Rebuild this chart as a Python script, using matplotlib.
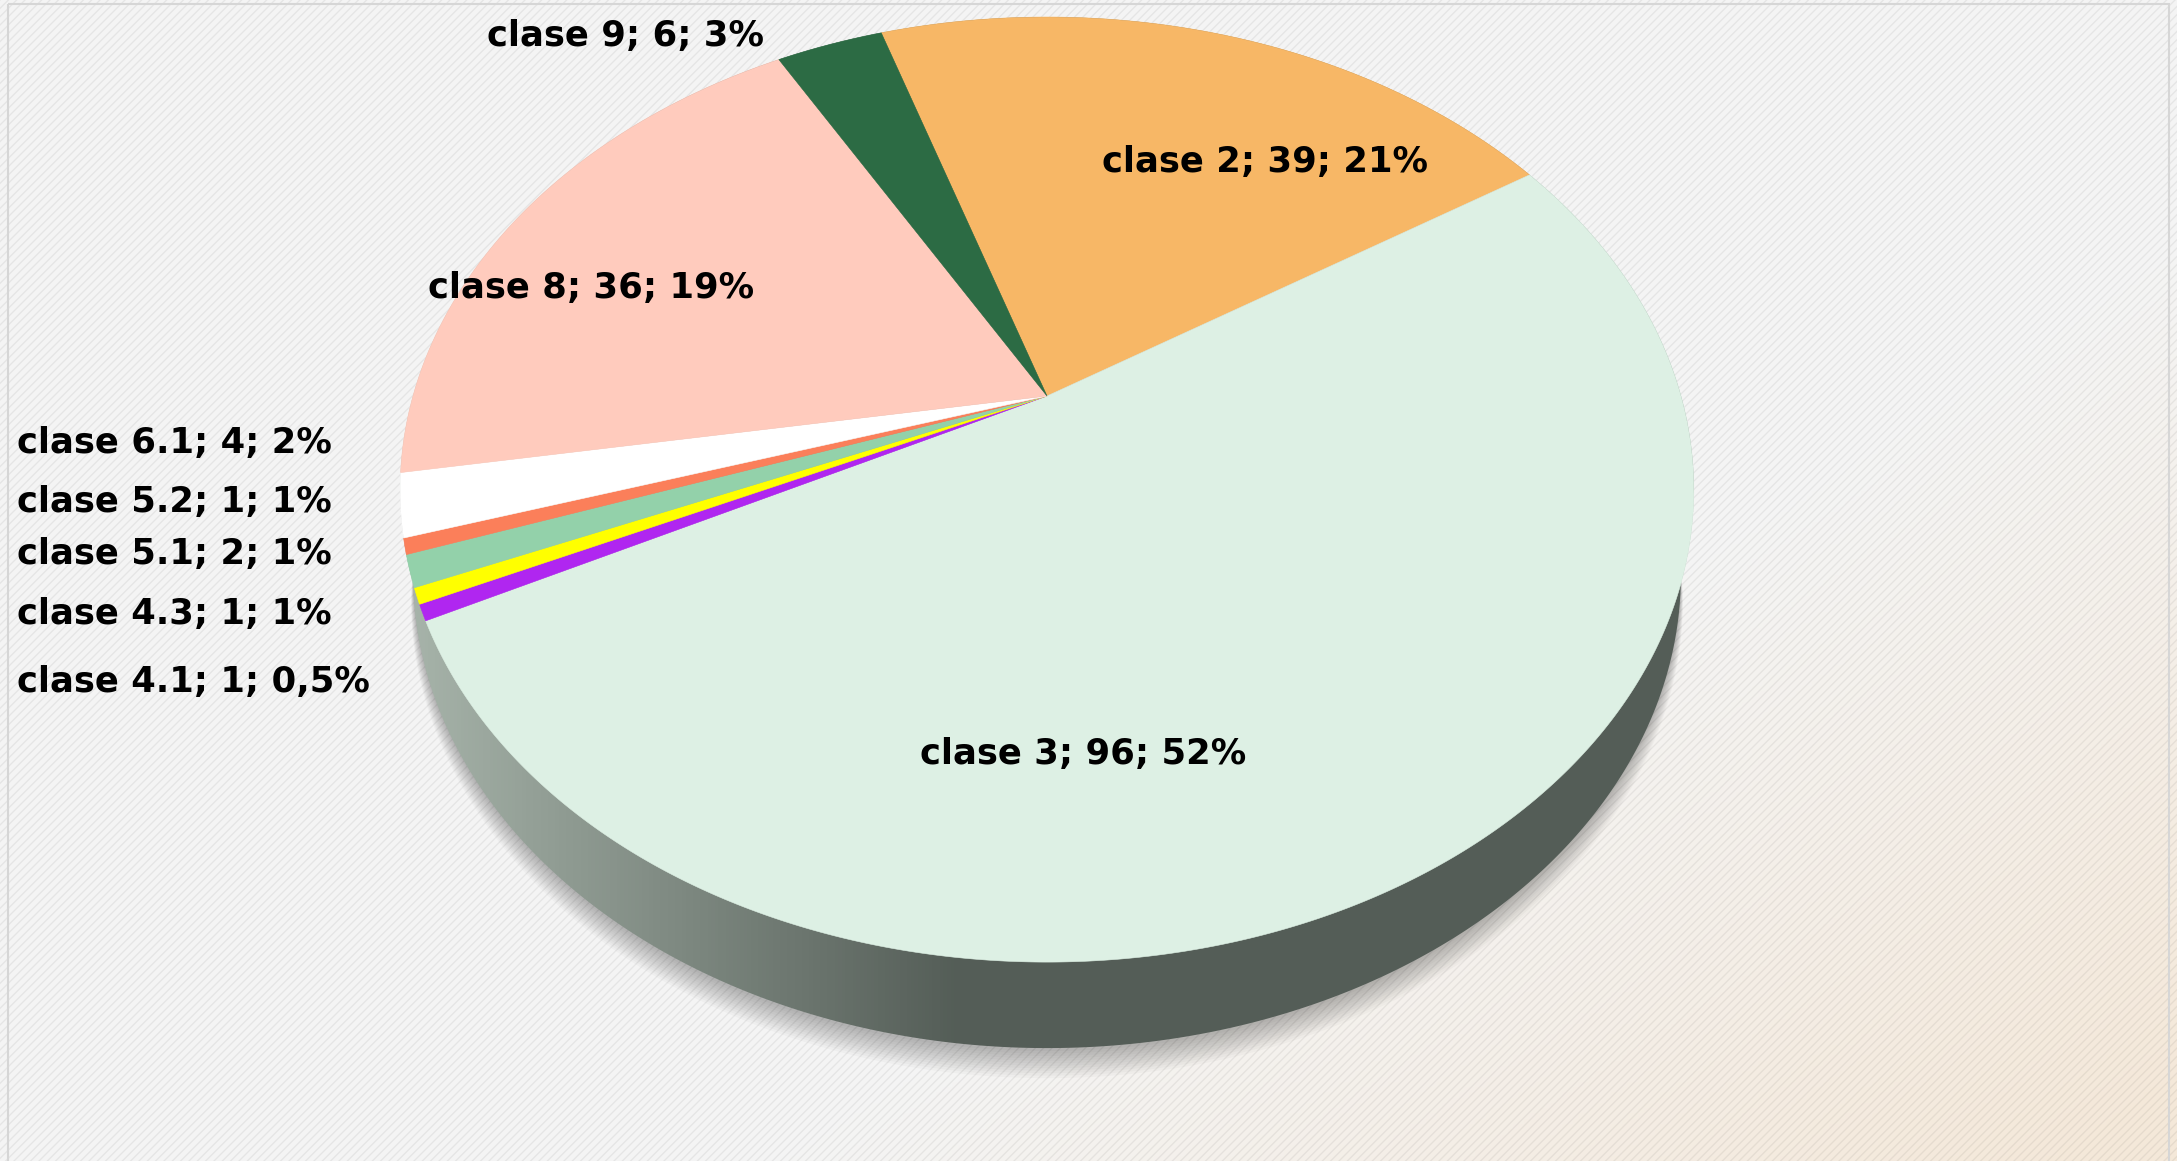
import numpy as np
import matplotlib
matplotlib.use("Agg")
from matplotlib import pyplot as plt
from matplotlib.patches import Polygon, Rectangle
from matplotlib.colors import LinearSegmentedColormap

# data (clockwise, starting a bit left of 12 o'clock)
categories = ["clase 2", "clase 3", "clase 4.1", "clase 4.3", "clase 5.1",
              "clase 5.2", "clase 6.1", "clase 8", "clase 9"]
values = [39, 96, 1, 1, 2, 1, 4, 36, 6]
percent_labels = ["21%", "52%", "0,5%", "1%", "1%", "1%", "2%", "19%", "3%"]
colors = ["#f7b766", "#ddf0e4", "#b026f0", "#ffff00", "#93d1aa",
          "#fb7f5a", "#ffffff", "#ffcbbd", "#2c6b44"]

# label anchors in pixels (x, baseline y, ha)
label_pos = [(1265, 172, "center"), (1083, 764, "center"), (17, 692, "left"),
             (17, 624, "left"), (17, 564, "left"), (17, 512, "left"),
             (17, 453, "left"), (591, 298, "center"), (487, 46, "left")]

W, H = 2177, 1161
CX, CY = 1047, 396        # apex of the pie on screen
A, B, K = 634, 454, 0.198  # perspective of the top face
T = 86                     # thickness of the pie
BOTTOM_SHRINK = 0.98       # bottom face looks a bit narrower
START = -18.1
TL = np.degrees(np.arccos(-K))  # angle of the left/right extremes


def project(theta, dz=0.0, scale=1.0, xs=1.0):
    th = np.radians(theta)
    u = scale * np.sin(th)
    v = scale * np.cos(th)
    den = 1 + K * v
    return CX + xs * A * u / den, CY - B * v / den + dz


def silhouette(dz=0.0):
    back = np.linspace(360 - TL, 360 + TL, 300)
    front = np.linspace(TL, 360 - TL, 300)
    bx, by = project(back)
    fx, fy = project(front, dz, xs=BOTTOM_SHRINK)
    return np.column_stack([np.concatenate([bx, fx]), np.concatenate([by, fy])])


fig = plt.figure(figsize=(W / 100, H / 100), dpi=100)
ax = fig.add_axes([0, 0, 1, 1])
ax.set_xlim(0, W)
ax.set_ylim(H, 0)
ax.axis("off")

# background: grey to beige, with fine diagonal stripes
xx, yy = np.meshgrid(np.linspace(0, 1, 400), np.linspace(0, 1, 220))
t = np.clip((xx * 0.55 + yy * 0.45 - 0.64) / 0.34, 0, 1)[..., None]
grey = np.array([0.96, 0.96, 0.96])
beige = np.array([244, 232, 217]) / 255
ax.imshow(grey * (1 - t) + beige * t, extent=[0, W, H, 0], aspect="auto", zorder=0)
plt.rcParams["hatch.linewidth"] = 1.0
ax.add_patch(Rectangle((0, 0), W, H, facecolor="none", edgecolor=(0, 0, 0, 0.06),
                       hatch="////", linewidth=0, zorder=1))
ax.add_patch(Rectangle((8, 4), 2161, H + 20, facecolor="none", edgecolor="#d6d6d6",
                       linewidth=1.5, zorder=2))

# soft shadow under the front of the pie, fading out towards the sides
front = np.linspace(TL, 360 - TL, 300)
w = np.sin((front - TL) / (360 - 2 * TL) * np.pi) ** 0.6
ix, iy = project(front[::-1])
for i in range(12):
    ox, oy = project(front, T + w * (3 + i * 0.9), 1 + w * 0.0022 * i, BOTTOM_SHRINK)
    sh = np.column_stack([np.concatenate([ox, ix]), np.concatenate([oy, iy])])
    ax.add_patch(Polygon(sh, closed=True, facecolor="black", edgecolor="none",
                         alpha=0.022, zorder=3))

# side of the pie with a horizontal shading
side = Polygon(silhouette(T), closed=True, facecolor="none", edgecolor="none", zorder=4)
ax.add_patch(side)
gx = np.linspace(0, W, 600)
grad = np.clip((gx - 400) / 560, 0, 1)[None, :]
side_cmap = LinearSegmentedColormap.from_list("side", ["#a8b5ab", "#545d57"])
im = ax.imshow(grad, extent=[0, W, H, 0], aspect="auto", cmap=side_cmap, zorder=4)
im.set_clip_path(side)

# top face
total = sum(values)
edges = START + 360 * np.concatenate([[0], np.cumsum(values)]) / total
for i in range(len(values)):
    a0, a1 = edges[i], edges[i + 1]
    th = np.linspace(a0, a1, max(3, int((a1 - a0) * 4)))
    x, y = project(th)
    pts = np.column_stack([np.concatenate([[CX], x]), np.concatenate([[CY], y])])
    ax.add_patch(Polygon(pts, closed=True, facecolor=colors[i], edgecolor=colors[i],
                         linewidth=0.4, zorder=5))

# data labels
for i, cat in enumerate(categories):
    lx, ly, ha = label_pos[i]
    ax.text(lx, ly, f"{cat}; {values[i]}; {percent_labels[i]}", ha=ha, va="baseline",
            fontsize=25.5, fontweight="bold", family="DejaVu Sans", color="black", zorder=6)

fig.savefig("out.png", dpi=100)
